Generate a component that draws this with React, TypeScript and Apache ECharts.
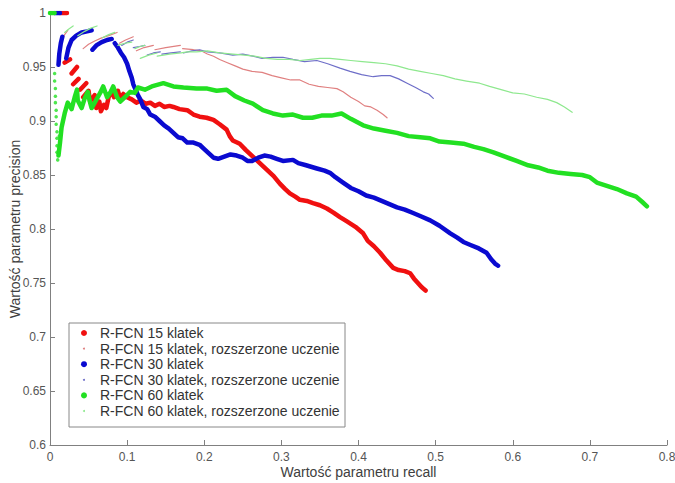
import React, { useEffect, useRef } from "react";
import * as echarts from "echarts";

// ---- Data (recall, precision) ----
const X_TICKS = [0, 0.1, 0.2, 0.3, 0.4, 0.5, 0.6, 0.7, 0.8];
const Y_TICKS = [0.6, 0.65, 0.7, 0.75, 0.8, 0.85, 0.9, 0.95, 1];

const SERIES_NAMES = [
  "R-FCN 15 klatek",
  "R-FCN 15 klatek, rozszerzone uczenie",
  "R-FCN 30 klatek",
  "R-FCN 30 klatek, rozszerzone uczenie",
  "R-FCN 60 klatek",
  "R-FCN 60 klatek, rozszerzone uczenie",
];

const red15 = [
  [[0.013, 1], [0.022, 1]],
  [[0.019, 0.954], [0.026, 0.957]],
  [[0.028, 0.944], [0.035, 0.95]],
  [[0.03, 0.934], [0.037, 0.939]],
  [[0.039, 0.929], [0.047, 0.935]],
  [
    [0.043, 0.922], [0.05, 0.928], [0.052, 0.918], [0.058, 0.924], [0.06, 0.912],
    [0.064, 0.918], [0.066, 0.909], [0.07, 0.915], [0.073, 0.912], [0.076, 0.922],
    [0.08, 0.928], [0.083, 0.922], [0.088, 0.928], [0.091, 0.921], [0.095, 0.925],
    [0.1, 0.922], [0.106, 0.92], [0.112, 0.917], [0.118, 0.919], [0.124, 0.916],
    [0.13, 0.917], [0.136, 0.914], [0.142, 0.916], [0.148, 0.913], [0.155, 0.914],
    [0.16, 0.913], [0.168, 0.911], [0.178, 0.91], [0.186, 0.906], [0.194, 0.904],
    [0.203, 0.903], [0.212, 0.901], [0.22, 0.897], [0.229, 0.892], [0.233, 0.886],
    [0.237, 0.882], [0.246, 0.879], [0.254, 0.873], [0.263, 0.867], [0.272, 0.861],
    [0.281, 0.855], [0.29, 0.849], [0.298, 0.842], [0.305, 0.837], [0.311, 0.833],
    [0.318, 0.83], [0.324, 0.827], [0.333, 0.826], [0.341, 0.824], [0.35, 0.822],
    [0.359, 0.819], [0.368, 0.815], [0.376, 0.811], [0.385, 0.807], [0.396, 0.802],
    [0.406, 0.796], [0.412, 0.789], [0.42, 0.784], [0.428, 0.778], [0.436, 0.771],
    [0.445, 0.764], [0.452, 0.762], [0.46, 0.761], [0.467, 0.759], [0.472, 0.754],
    [0.477, 0.75], [0.482, 0.746], [0.487, 0.743],
  ],
];

const red15Ext = [
  [[0.01, 0.958], [0.012, 0.966], [0.015, 0.974], [0.019, 0.98], [0.023, 0.984]],
  [[0.043, 0.967], [0.05, 0.971], [0.058, 0.974], [0.067, 0.977], [0.076, 0.979], [0.087, 0.982]],
  [[0.09, 0.972], [0.098, 0.975], [0.108, 0.978]],
  [[0.112, 0.965], [0.122, 0.968], [0.134, 0.97]],
  [[0.136, 0.966], [0.15, 0.968], [0.169, 0.97]],
  [
    [0.172, 0.967], [0.186, 0.966], [0.196, 0.965], [0.204, 0.962], [0.212, 0.96],
    [0.22, 0.957], [0.23, 0.954], [0.24, 0.951], [0.25, 0.948], [0.262, 0.946],
    [0.275, 0.945], [0.288, 0.942], [0.3, 0.94], [0.312, 0.938], [0.324, 0.938],
    [0.336, 0.934], [0.348, 0.932], [0.36, 0.931], [0.372, 0.93], [0.38, 0.927],
    [0.39, 0.922], [0.4, 0.918], [0.408, 0.914], [0.416, 0.913], [0.424, 0.91],
    [0.432, 0.906], [0.437, 0.903],
  ],
];

const blue30 = [
  [[0.006, 1], [0.013, 1]],
  [[0.011, 0.952], [0.012, 0.962], [0.014, 0.972], [0.016, 0.978]],
  [[0.021, 0.958], [0.024, 0.968], [0.028, 0.975], [0.034, 0.979], [0.041, 0.982], [0.048, 0.983], [0.054, 0.984]],
  [[0.055, 0.966], [0.06, 0.97], [0.067, 0.973], [0.074, 0.975], [0.08, 0.976]],
  [
    [0.084, 0.972], [0.088, 0.968], [0.092, 0.963], [0.096, 0.959], [0.1, 0.953],
    [0.103, 0.946], [0.106, 0.94], [0.108, 0.934], [0.111, 0.929], [0.114, 0.924],
    [0.117, 0.92], [0.121, 0.913], [0.126, 0.911], [0.13, 0.906], [0.136, 0.904],
    [0.142, 0.9], [0.148, 0.896], [0.154, 0.893], [0.16, 0.889], [0.166, 0.885],
    [0.172, 0.884], [0.178, 0.88], [0.186, 0.88], [0.194, 0.878], [0.2, 0.874],
    [0.206, 0.87], [0.212, 0.866], [0.218, 0.865], [0.226, 0.867], [0.234, 0.869],
    [0.242, 0.868], [0.25, 0.866], [0.256, 0.863], [0.262, 0.863], [0.27, 0.866],
    [0.278, 0.868], [0.286, 0.867], [0.294, 0.865], [0.302, 0.863], [0.315, 0.864],
    [0.322, 0.861], [0.332, 0.859], [0.346, 0.856], [0.356, 0.854], [0.363, 0.852],
    [0.37, 0.848], [0.38, 0.843], [0.39, 0.838], [0.4, 0.835], [0.41, 0.831],
    [0.42, 0.829], [0.43, 0.826], [0.44, 0.823], [0.45, 0.82], [0.46, 0.818],
    [0.47, 0.815], [0.48, 0.812], [0.493, 0.808], [0.505, 0.803], [0.519, 0.796],
    [0.528, 0.792], [0.536, 0.788], [0.546, 0.785], [0.556, 0.782], [0.566, 0.778],
    [0.572, 0.772], [0.577, 0.768], [0.581, 0.766],
  ],
];

const blue30Ext = [
  [[0.093, 0.97], [0.1, 0.973], [0.108, 0.975]],
  [[0.108, 0.968], [0.116, 0.969], [0.123, 0.97]],
  [[0.126, 0.961], [0.134, 0.963], [0.143, 0.964]],
  [[0.145, 0.962], [0.157, 0.963], [0.169, 0.964]],
  [
    [0.173, 0.963], [0.184, 0.965], [0.194, 0.966], [0.204, 0.964], [0.22, 0.963],
    [0.237, 0.961], [0.25, 0.962], [0.263, 0.96], [0.275, 0.958], [0.289, 0.959],
    [0.302, 0.959], [0.315, 0.957], [0.33, 0.955], [0.346, 0.956], [0.36, 0.953],
    [0.376, 0.949], [0.389, 0.946], [0.404, 0.943], [0.419, 0.941], [0.43, 0.942],
    [0.441, 0.942], [0.452, 0.939], [0.463, 0.935], [0.474, 0.931], [0.484, 0.927],
    [0.491, 0.925], [0.497, 0.921],
  ],
];

const green60 = [
  [[0.0, 1], [0.006, 1]],
  [
    [0.011, 0.868], [0.013, 0.88], [0.015, 0.894], [0.019, 0.907], [0.023, 0.917],
    [0.028, 0.911], [0.032, 0.922], [0.035, 0.929], [0.036, 0.919], [0.041, 0.912],
    [0.045, 0.921], [0.049, 0.927], [0.052, 0.917], [0.054, 0.912], [0.058, 0.917],
    [0.065, 0.926], [0.069, 0.932], [0.074, 0.922], [0.078, 0.926], [0.082, 0.932],
    [0.087, 0.922], [0.091, 0.918], [0.097, 0.922], [0.104, 0.927], [0.11, 0.926],
    [0.114, 0.931], [0.123, 0.929], [0.132, 0.932], [0.147, 0.935], [0.16, 0.932],
    [0.173, 0.931], [0.19, 0.93], [0.204, 0.93], [0.216, 0.928], [0.229, 0.929],
    [0.24, 0.923], [0.252, 0.919], [0.263, 0.916], [0.276, 0.91], [0.289, 0.907],
    [0.302, 0.905], [0.315, 0.906], [0.328, 0.903], [0.34, 0.903], [0.352, 0.905],
    [0.365, 0.905], [0.378, 0.907], [0.39, 0.902], [0.406, 0.896], [0.42, 0.893],
    [0.435, 0.891], [0.45, 0.889], [0.465, 0.886], [0.48, 0.885], [0.493, 0.884],
    [0.505, 0.881], [0.52, 0.88], [0.536, 0.879], [0.55, 0.876], [0.562, 0.874],
    [0.575, 0.871], [0.59, 0.867], [0.605, 0.863], [0.62, 0.859], [0.633, 0.857],
    [0.645, 0.854], [0.66, 0.852], [0.675, 0.851], [0.69, 0.85], [0.7, 0.848],
    [0.709, 0.843], [0.722, 0.84], [0.735, 0.837], [0.748, 0.833], [0.76, 0.83],
    [0.768, 0.825], [0.774, 0.821],
  ],
];

// sparse dots of the 60-frame curve at the very start
const green60Dots = [
  [0.006, 0.944], [0.006, 0.937], [0.007, 0.93], [0.007, 0.923], [0.007, 0.917],
  [0.008, 0.91], [0.008, 0.904], [0.008, 0.897], [0.009, 0.89], [0.009, 0.884],
  [0.009, 0.877], [0.009, 0.871], [0.01, 0.864], [0.012, 0.875], [0.012, 0.886],
];

const green60Ext = [
  [[0.019, 0.982], [0.024, 0.985], [0.03, 0.988]],
  [[0.036, 0.979], [0.045, 0.983], [0.053, 0.986], [0.061, 0.988]],
  [[0.068, 0.977], [0.076, 0.98], [0.084, 0.982]],
  [[0.088, 0.97], [0.097, 0.972], [0.106, 0.973]],
  [[0.11, 0.967], [0.117, 0.969], [0.123, 0.97]],
  [[0.117, 0.958], [0.128, 0.961], [0.139, 0.963]],
  [
    [0.139, 0.96], [0.155, 0.962], [0.17, 0.963], [0.178, 0.964], [0.19, 0.964],
    [0.204, 0.965], [0.22, 0.963], [0.237, 0.962], [0.252, 0.961], [0.265, 0.96],
    [0.28, 0.958], [0.295, 0.957], [0.31, 0.957], [0.324, 0.956], [0.338, 0.957],
    [0.35, 0.958], [0.363, 0.958], [0.376, 0.957], [0.39, 0.956], [0.405, 0.955],
    [0.42, 0.954], [0.435, 0.953], [0.45, 0.951], [0.465, 0.948], [0.48, 0.946],
    [0.495, 0.944], [0.51, 0.942], [0.525, 0.939], [0.54, 0.937], [0.557, 0.935],
    [0.57, 0.932], [0.585, 0.929], [0.6, 0.926], [0.615, 0.925], [0.631, 0.922],
    [0.645, 0.92], [0.657, 0.917], [0.667, 0.913], [0.677, 0.908],
  ],
];

const COLORS = ["#f01010", "#e08080", "#0a0ad0", "#6e6ec8", "#22e022", "#8ee88e"];
const FONT = "'Liberation Sans', Arial, Helvetica, sans-serif";

function joinSegments(segs: number[][][]) {
  const out: (number | null)[][] = [];
  segs.forEach((s, i) => {
    if (i > 0) out.push([null, null]);
    s.forEach((p) => out.push(p));
  });
  return out;
}

export default function App() {
  const ref = useRef<HTMLDivElement>(null);

  useEffect(() => {
    const chart = echarts.init(ref.current!, null, { renderer: "svg" });

    const lineSeries = (name: string, segs: number[][][], color: string, width: number) => ({
      name,
      type: "line",
      data: joinSegments(segs),
      showSymbol: false,
      symbol: "none",
      connectNulls: false,
      lineStyle: { color, width, cap: "round", join: "round" },
      itemStyle: { color },
      silent: true,
    });

    const legendRows = SERIES_NAMES.map((n, i) => {
      const y = 333 + i * 15.6;
      const thick = i % 2 === 0;
      return [
        {
          type: "circle",
          shape: { cx: 84, cy: y, r: thick ? 3 : 1 },
          style: { fill: COLORS[i] },
        },
        {
          type: "text",
          x: 100,
          y: y,
          style: {
            text: n,
            fill: "#333",
            font: `14px ${FONT}`,
            verticalAlign: "middle",
            align: "left",
          },
        },
      ];
    }).flat();

    chart.setOption({
      animation: false,
      backgroundColor: "#fff",
      grid: { left: 50, right: 8, top: 13, bottom: 38, outerBoundsMode: "none", containLabel: false },
      xAxis: {
        type: "value",
        min: 0,
        max: 0.8,
        interval: 0.1,
        name: "Wartość parametru recall",
        nameLocation: "middle",
        nameGap: 20,
        nameMoveOverlap: false,
        nameTextStyle: { fontFamily: FONT, fontSize: 14, color: "#404040" },
        axisLine: { lineStyle: { color: "#808080" } },
        axisTick: { inside: true, length: 5, lineStyle: { color: "#808080" } },
        axisLabel: {
          fontFamily: FONT,
          fontSize: 12,
          color: "#555",
          margin: 6,
          formatter: (v: number) => {
            const t = X_TICKS.find((k) => Math.abs(k - v) < 1e-9);
            return t === undefined ? "" : String(t);
          },
        },
        splitLine: { show: false },
      },
      yAxis: {
        type: "value",
        min: 0.6,
        max: 1,
        interval: 0.05,
        name: "Wartość parametru precision",
        nameLocation: "middle",
        nameGap: 28,
        nameMoveOverlap: false,
        nameTextStyle: { fontFamily: FONT, fontSize: 14, color: "#404040" },
        axisLine: { lineStyle: { color: "#808080" } },
        axisTick: { inside: true, length: 5, lineStyle: { color: "#808080" } },
        axisLabel: {
          fontFamily: FONT,
          fontSize: 12,
          color: "#555",
          margin: 4,
          formatter: (v: number) => {
            const t = Y_TICKS.find((k) => Math.abs(k - v) < 1e-9);
            return t === undefined ? "" : String(t);
          },
        },
        splitLine: { show: false },
      },
      series: [
        lineSeries(SERIES_NAMES[0], red15, COLORS[0], 4.5),
        lineSeries(SERIES_NAMES[1], red15Ext, COLORS[1], 1.2),
        lineSeries(SERIES_NAMES[2], blue30, COLORS[2], 4.5),
        lineSeries(SERIES_NAMES[3], blue30Ext, COLORS[3], 1.2),
        lineSeries(SERIES_NAMES[4], green60, COLORS[4], 4.5),
        {
          name: SERIES_NAMES[4],
          type: "scatter",
          data: green60Dots,
          symbol: "circle",
          symbolSize: 3.5,
          itemStyle: { color: COLORS[4] },
          silent: true,
        },
        lineSeries(SERIES_NAMES[5], green60Ext, COLORS[5], 1.2),
      ],
      graphic: [
        {
          type: "rect",
          shape: { x: 69, y: 323, width: 276, height: 104 },
          style: { fill: "#fff", stroke: "#888", lineWidth: 1 },
          z: 100,
        },
        ...legendRows.map((e) => ({ ...e, z: 101 })),
      ],
    });

    return () => chart.dispose();
  }, []);

  return (
    <div
      ref={ref}
      style={{ position: "fixed", left: 0, top: 0, width: 675, height: 483, background: "#fff" }}
    />
  );
}
